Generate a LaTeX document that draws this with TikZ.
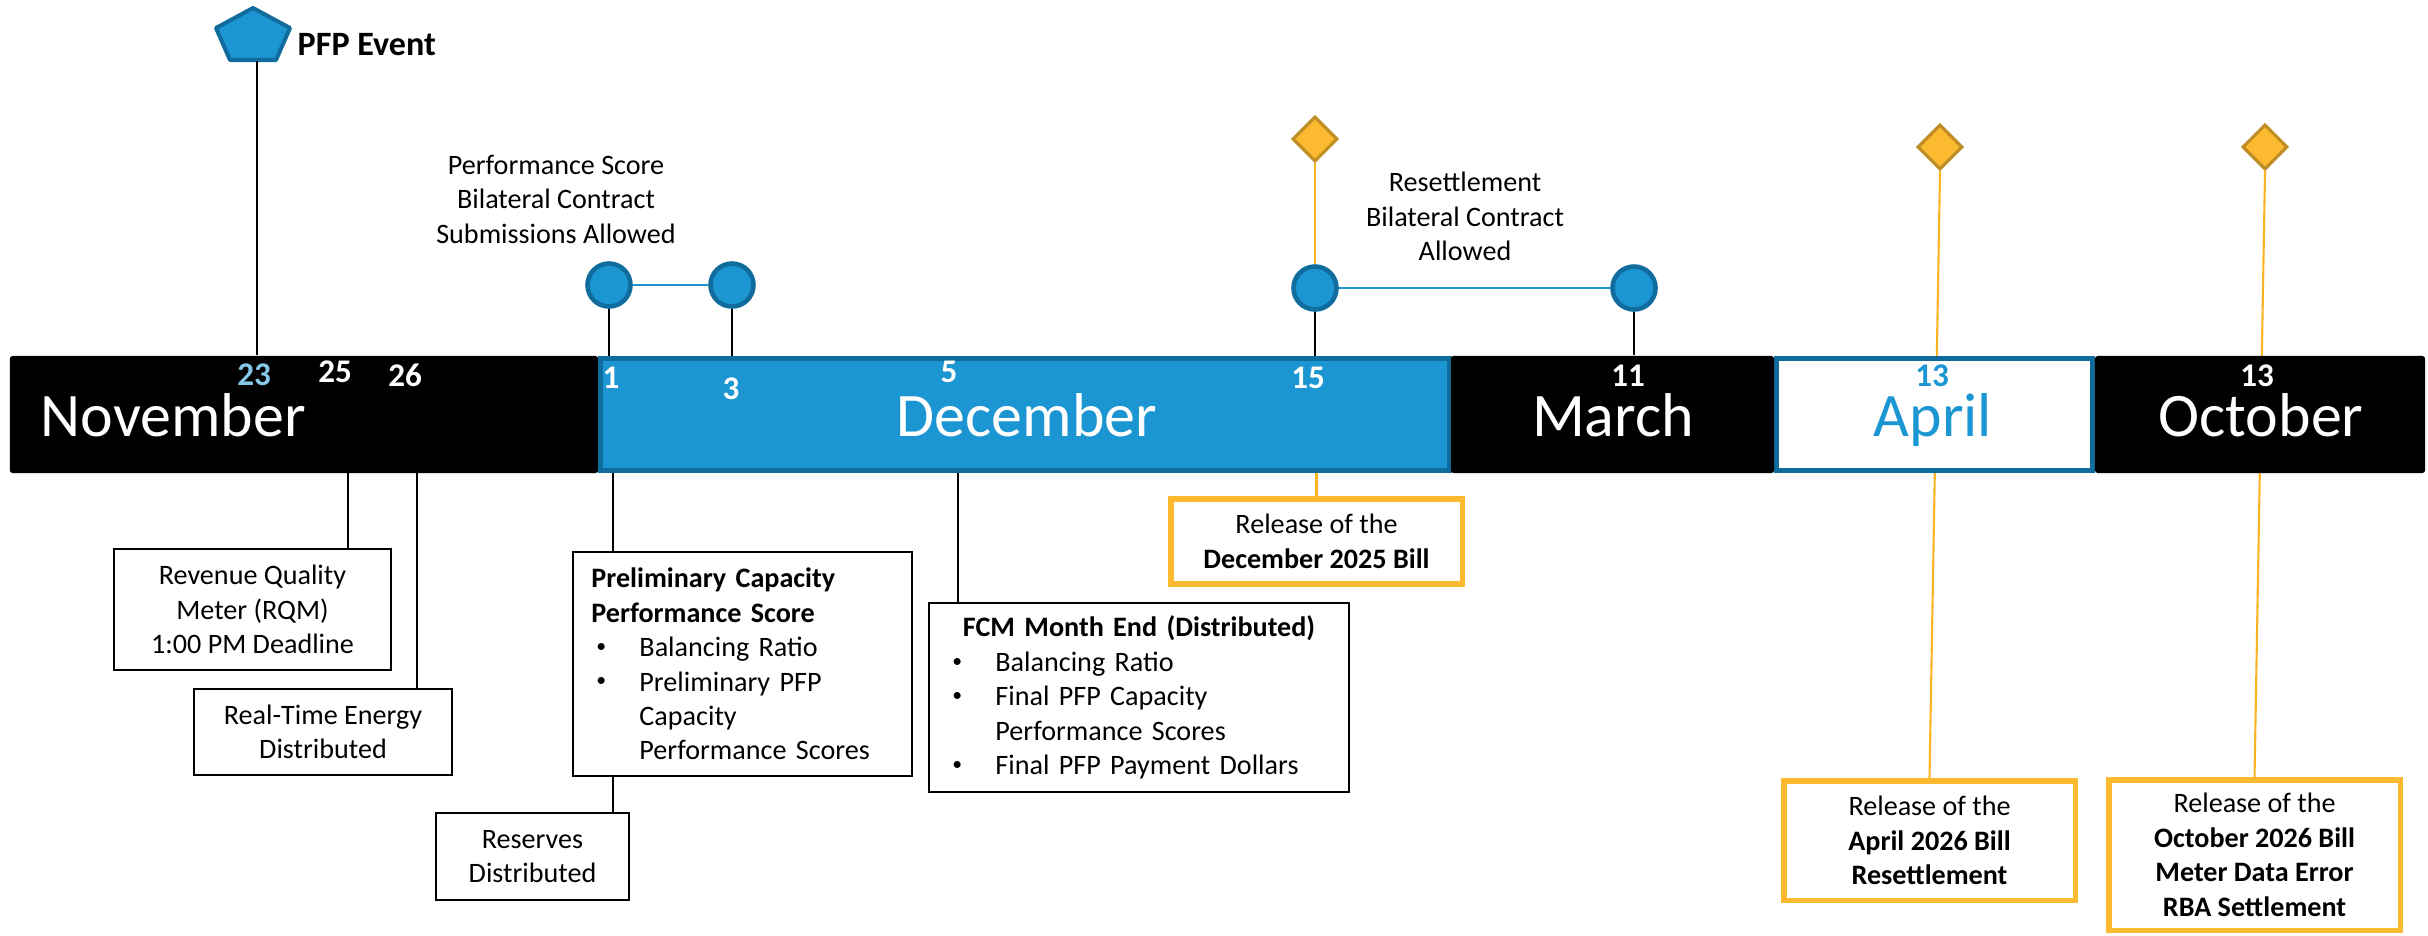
\documentclass[tikz,border=0pt]{standalone}
\usepackage{fontspec}
\usepackage{graphicx}
\setmainfont{Carlito}
\usetikzlibrary{shapes.geometric}

\definecolor{tlblue}{RGB}{27,150,210}
\definecolor{tldark}{RGB}{17,108,158}
\definecolor{tlsky}{RGB}{135,200,235}
\definecolor{tlgold}{RGB}{251,186,48}
\definecolor{tlgoldedge}{RGB}{192,142,36}
\definecolor{tlline}{RGB}{250,180,35}

\newcommand\boxfont{\fontsize{8pt}{9.8pt}\selectfont}
\newcommand\dayfont{\fontsize{9.4pt}{11pt}\selectfont\bfseries}
\newcommand\monthfont{\fontsize{17.6pt}{20pt}\selectfont}
\newcommand\bul{\makebox[0.48cm][l]{\hspace{0.05cm}\raisebox{0.3ex}{\scalebox{0.7}{\textbullet}}}}
\newcommand\cont{\hspace*{0.48cm}}

\begin{document}
\begin{tikzpicture}[x=0.01cm,y=-0.01cm,
  tick/.style={draw=black,line width=0.6pt},
  goldline/.style={draw=tlline,line width=0.6pt},
  linkline/.style={draw=tlblue,line width=0.7pt},
  blackbox/.style={draw=black,line width=0.65pt,fill=white,inner sep=0pt,font=\boxfont,align=center},
  listbox/.style={blackbox,align=left,inner xsep=0.185cm,inner ysep=0pt},
  relbox/.style={draw=tlgold,line width=1.6pt,fill=white,inner sep=0pt,font=\boxfont,align=center,minimum width=2.915cm},
  dot/.style={circle,draw=tldark,fill=tlblue,line width=1.3pt,minimum size=0.43cm,inner sep=0pt},
  gem/.style={diamond,draw=tlgoldedge,fill=tlgold,line width=0.9pt,minimum width=0.45cm,minimum height=0.45cm,inner sep=0pt},
  seg/.style={rectangle,inner sep=0pt,minimum height=1.17cm},
  darkseg/.style={seg,fill=black,rounded corners=0.8pt},
  blueframe/.style={seg,draw=tldark,line width=1.42pt,minimum height=1.12cm},
  monthlabel/.style={font=\monthfont,text=white,inner sep=0pt,anchor=base},
  daylabel/.style={font=\dayfont,text=white,inner sep=0pt,anchor=base},
  note/.style={font=\boxfont,align=center,inner sep=0pt}
]
\fill[white] (0,0) rectangle (2428,935);
\useasboundingbox (0,0) rectangle (2428,935);

% settlement markers above the bar
\node[gem] (d1) at (1315,139) {};
\node[gem] (d2) at (1940,147) {};
\node[gem] (d3) at (2265,147) {};

% bill release boxes
\node[relbox,minimum height=0.855cm] (decrel) at (1316.5,541.5)
  {Release of the\\\textbf{December 2025 Bill}};
\node[relbox,minimum height=1.195cm] (aprrel) at (1929.5,840.5)
  {Release of the\\\textbf{April 2026 Bill}\\\textbf{Resettlement}};
\node[relbox,minimum height=1.505cm] (octrel) at (2254.5,855)
  {Release of the\\\textbf{October 2026 Bill}\\\textbf{Meter Data Error}\\\textbf{RBA Settlement}};

% long release connectors pass behind the month bar
\draw[goldline] (d2.south) -- (aprrel.north);
\draw[goldline] (d3.south) -- (octrel.north);

% month bar
\node[darkseg,minimum width=5.88cm] (nov) at (304,414.5) {};
\node[blueframe,fill=tlblue,minimum width=8.49cm] (dec) at (1025,414.5) {};
\node[blueframe,fill=white,minimum width=3.16cm] (apr) at (1934.5,414.5) {};
\node[darkseg,minimum width=3.23cm] (mar) at (1612.5,414.5) {};
\node[darkseg,minimum width=3.30cm] (oct) at (2260,414.5) {};

\node[monthlabel,anchor=base west] (novtxt) at (40,436) {November};
\node[monthlabel] (dectxt) at (1027,436) {December};
\node[monthlabel] (martxt) at (1613,436) {March};
\node[monthlabel,text=tlblue] (aprtxt) at (1933,436) {April};
\node[monthlabel] (octtxt) at (2261,436) {October};

\node[daylabel,text=tlsky] (n23) at (254,385) {23};
\node[daylabel] (n25) at (335,382) {25};
\node[daylabel] (n26) at (405,386) {26};
\node[daylabel] (n1) at (611,388) {1};
\node[daylabel] (n3) at (731,399) {3};
\node[daylabel] (n5) at (949,382) {5};
\node[daylabel] (n15) at (1308,388) {15};
\node[daylabel] (n11) at (1628,386) {11};
\node[daylabel,text=tlblue] (n13a) at (1932,386) {13};
\node[daylabel] (n13o) at (2257,386) {13};

% PFP event marker
\filldraw[fill=tlblue,draw=tldark,line width=1.15pt,line join=round]
  (253,8) -- (290,28) -- (276,60) -- (230,60) -- (216,28) -- cycle;
\coordinate (pfpfoot) at (257,61);
\node[font=\fontsize{9.7pt}{11pt}\selectfont\bfseries,inner sep=0pt,anchor=base west] (pfp) at (297,55) {PFP Event};
\draw[tick] (pfpfoot) -- (pfpfoot |- nov.north);

% bilateral contract windows
\node[dot] (c1) at (609,285) {};
\node[dot] (c2) at (732,285) {};
\node[dot] (c3) at (1315,288) {};
\node[dot] (c4) at (1634,288) {};
\draw[linkline] (c1.east) -- (c2.west);
\draw[linkline] (c3.east) -- (c4.west);
\draw[tick] (c1.south) -- (c1.south |- dec.north);
\draw[tick] (c2.south) -- (c2.south |- dec.north);
\draw[tick] (c3.south) -- (c3.south |- dec.north);
\draw[tick] (c4.south) -- (c4.south |- mar.north);
\draw[goldline] (d1.south) -- (c3.north);

\node[note] (perf) at (556,199) {Performance Score\\Bilateral Contract\\Submissions Allowed};
\node[note] (resettle) at (1465,216.5) {Resettlement\\Bilateral Contract\\Allowed};

% deliverables below the bar
\node[blackbox,minimum width=2.77cm,minimum height=1.21cm] (rqm) at (252.5,609.5)
  {Revenue Quality\\Meter (RQM)\\1:00 PM Deadline};
\node[blackbox,minimum width=2.58cm,minimum height=0.86cm] (rt) at (323,732)
  {Real-Time Energy\\Distributed};
\node[listbox,text width=3.02cm,minimum width=3.39cm,minimum height=2.24cm] (prelim) at (742.5,664)
  {\textbf{Preliminary Capacity}\\ \textbf{Performance Score}\\ \bul Balancing Ratio\\ \bul Preliminary PFP\\ \cont Capacity\\ \cont Performance Scores};
\node[blackbox,minimum width=1.93cm,minimum height=0.87cm] (res) at (532.5,856.5)
  {Reserves\\Distributed};
\node[listbox,text width=3.83cm,minimum width=4.20cm,minimum height=1.89cm] (fcm) at (1139,697.5)
  {\makebox[3.83cm][c]{\textbf{FCM Month End (Distributed)}}\\ \bul Balancing Ratio\\ \bul Final PFP Capacity\\ \cont Performance Scores\\ \bul Final PFP Payment Dollars};

\coordinate (m25) at (348,473);
\coordinate (m26) at (417,473);
\coordinate (m1) at (613,473);
\coordinate (m5) at (958,473);
\draw[tick] (m25) -- (m25 |- rqm.north);
\draw[tick] (m26) -- (m26 |- rt.north);
\draw[tick] (m1) -- (m1 |- prelim.north);
\draw[tick] (m1 |- prelim.south) -- (m1 |- res.north);
\draw[tick] (m5) -- (m5 |- fcm.north);
\draw[goldline] (decrel.north) -- (decrel.north |- dec.south);
\end{tikzpicture}
\end{document}
